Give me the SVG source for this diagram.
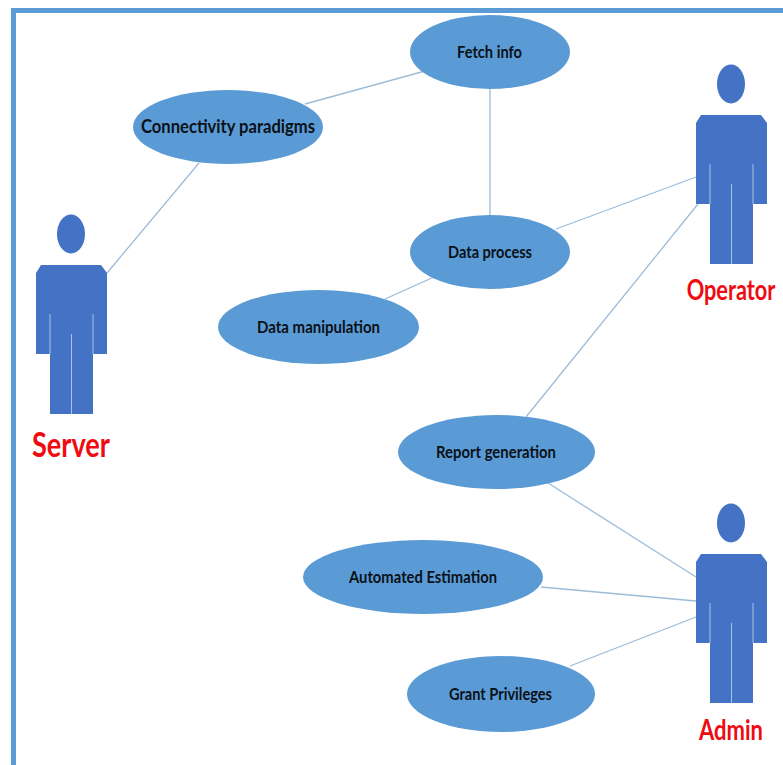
<svg xmlns="http://www.w3.org/2000/svg" width="783" height="765" viewBox="0 0 783 765">
<style>
.e{fill:#5b9bd5}
.l{stroke:#9dbcd8;stroke-width:1.3;fill:none}
.t{font-family:Lato,"Open Sans","Liberation Sans",sans-serif;font-weight:700;fill:#0a1118;text-anchor:middle}
.r{font-family:Lato,"Open Sans","Liberation Sans",sans-serif;font-weight:700;fill:#ee0c12;text-anchor:middle}
.b{fill:#4472c4}
.s{stroke:#a9c2e6;stroke-width:1;fill:none}
</style>
<defs>
<g id="person">
<ellipse class="b" cx="35" cy="-31" rx="14" ry="19.5"/>
<path class="b" d="M5 0H65L71 8V89H57V149H14V89H0V8Z"/>
<path class="s" d="M14 49V89M57 49V89M35.500 69V149"/>
</g>
</defs>
<rect width="783" height="765" fill="#fff"/>
<g id="frame" fill="#5b9bd5"><rect x="11" y="8" width="5" height="757"/><rect x="11" y="8" width="772" height="5"/></g>
<g id="connectors">
<path class="l" d="M305 104L425 71"/>
<path class="l" d="M107 273L199 163"/>
<path class="l" d="M490 88V216"/>
<path class="l" d="M556 229L696 177"/>
<path class="l" d="M385 299L434 277"/>
<path class="l" d="M526 417L698 204"/>
<path class="l" d="M548 483L696 577"/>
<path class="l" d="M541 587L696 601"/>
<path class="l" d="M570 666L696 617"/>
</g>
<g id="fetch"><ellipse class="e" cx="490" cy="52" rx="80" ry="37"/><text class="t" x="489.500" y="58" font-size="17" textLength="65" lengthAdjust="spacingAndGlyphs">Fetch info</text></g>
<g id="connectivity"><ellipse class="e" cx="228" cy="127" rx="95" ry="37"/><text class="t" x="228" y="133" font-size="19" textLength="174" lengthAdjust="spacingAndGlyphs">Connectivity paradigms</text></g>
<g id="process"><ellipse class="e" cx="490" cy="252" rx="80" ry="37"/><text class="t" x="490" y="258" font-size="17" textLength="84" lengthAdjust="spacingAndGlyphs">Data process</text></g>
<g id="manipulation"><ellipse class="e" cx="318.500" cy="327" rx="100.500" ry="37"/><text class="t" x="318.500" y="333" font-size="17" textLength="123" lengthAdjust="spacingAndGlyphs">Data manipulation</text></g>
<g id="report"><ellipse class="e" cx="496.500" cy="452" rx="98.500" ry="37"/><text class="t" x="496" y="458" font-size="17" textLength="120" lengthAdjust="spacingAndGlyphs">Report generation</text></g>
<g id="estimation"><ellipse class="e" cx="423" cy="577" rx="120" ry="37"/><text class="t" x="423" y="583" font-size="17" textLength="148" lengthAdjust="spacingAndGlyphs">Automated Estimation</text></g>
<g id="privileges"><ellipse class="e" cx="501" cy="694" rx="94" ry="38"/><text class="t" x="500.500" y="700" font-size="17" textLength="103" lengthAdjust="spacingAndGlyphs">Grant Privileges</text></g>
<g id="server"><use href="#person" x="36" y="265"/><text class="r" x="71" y="457" font-size="35" textLength="78" lengthAdjust="spacingAndGlyphs">Server</text></g>
<g id="operator"><use href="#person" x="696" y="115"/><text class="r" transform="translate(731 300) scale(.776 1)" font-size="28">Operator</text></g>
<g id="admin"><use href="#person" x="696" y="554"/><text class="r" x="731" y="740" font-size="29" textLength="64" lengthAdjust="spacingAndGlyphs">Admin</text></g>
</svg>
